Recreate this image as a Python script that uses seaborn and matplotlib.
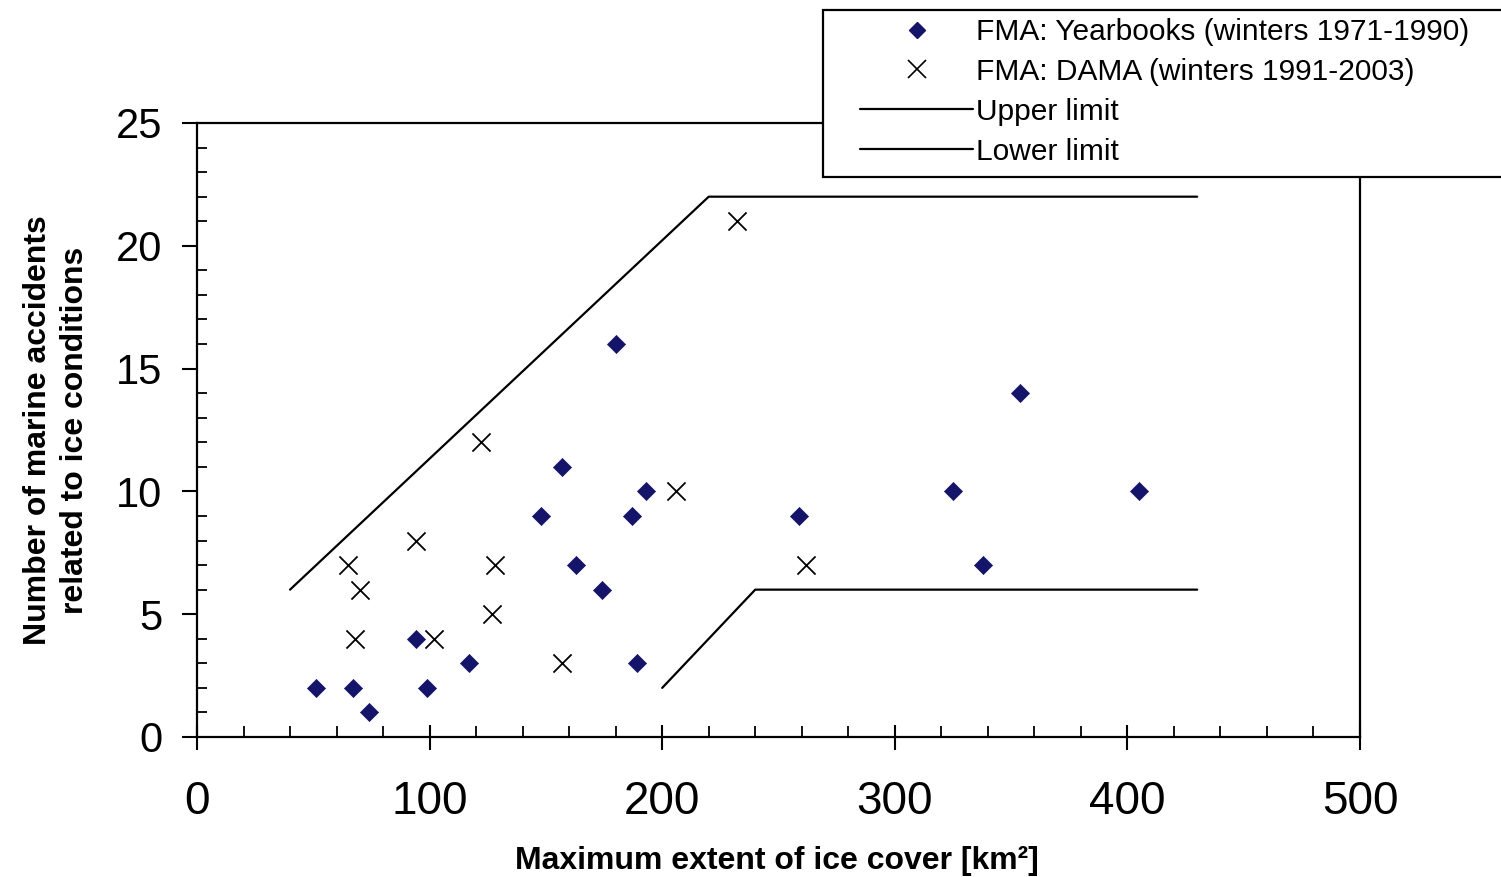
import numpy as np
import pandas as pd
import matplotlib
matplotlib.use("Agg")
import matplotlib.pyplot as plt
import seaborn as sns
from matplotlib.lines import Line2D
from matplotlib.patches import Rectangle
from matplotlib.ticker import MultipleLocator

# ---- data ----
yb_x = [51, 67, 74, 94, 99, 117, 148, 157, 163, 174, 180, 187, 189, 193, 259, 325, 338, 354, 405]
yb_y = [2, 2, 1, 4, 2, 3, 9, 11, 7, 6, 16, 9, 3, 10, 9, 10, 7, 14, 10]

dama_x = [65, 70, 68, 94, 102, 122, 128, 127, 157, 206, 232, 262]
dama_y = [7, 6, 4, 8, 4, 12, 7, 5, 3, 10, 21, 7]

upper_x = [40, 220, 430]
upper_y = [6, 22, 22]
lower_x = [200, 240, 430]
lower_y = [2, 6, 6]

labels = ["FMA: Yearbooks (winters 1971-1990)",
          "FMA: DAMA (winters 1991-2003)",
          "Upper limit",
          "Lower limit"]

x_label = "Maximum extent of ice cover [km²]"
y_label = "Number of marine accidents\nrelated to ice conditions"

# ---- style ----
sns.set_theme(style="white")
plt.rcParams['font.family'] = ['Liberation Sans', 'DejaVu Sans']
plt.rcParams['text.color'] = 'black'
plt.rcParams['axes.labelcolor'] = 'black'
plt.rcParams['xtick.color'] = 'black'
plt.rcParams['ytick.color'] = 'black'

W, H = 1501, 877
fig = plt.figure(figsize=(W / 100, H / 100), dpi=100)
ax = fig.add_axes([197 / W, 1 - 737 / H, (1360 - 197) / W, (737 - 123) / H])

yb = pd.DataFrame({"x": yb_x, "y": yb_y})
dm = pd.DataFrame({"x": dama_x, "y": dama_y})
up = pd.DataFrame({"x": upper_x, "y": upper_y})
lo = pd.DataFrame({"x": lower_x, "y": lower_y})

navy = "#14146b"
sns.lineplot(data=up, x="x", y="y", ax=ax, color="black", lw=1.6, sort=False, estimator=None)
sns.lineplot(data=lo, x="x", y="y", ax=ax, color="black", lw=1.6, sort=False, estimator=None)
sns.scatterplot(data=yb, x="x", y="y", ax=ax, marker="D", s=85, color=navy,
                edgecolor=navy, linewidth=0.5, zorder=3)
sns.scatterplot(data=dm, x="x", y="y", ax=ax, marker="x", s=170, color="black",
                linewidth=1.3, zorder=3)

ax.set_xlim(0, 500)
ax.set_ylim(0, 25)
ax.xaxis.set_major_locator(MultipleLocator(100))
ax.xaxis.set_minor_locator(MultipleLocator(20))
ax.yaxis.set_major_locator(MultipleLocator(5))
ax.yaxis.set_minor_locator(MultipleLocator(1))

for s in ax.spines.values():
    s.set_color("black")
    s.set_linewidth(1.6)

ax.tick_params(axis="x", which="major", direction="inout", length=18, width=1.5,
               bottom=True, labelsize=33, pad=22, colors="black")
ax.tick_params(axis="x", which="minor", direction="in", length=8, width=1.3, bottom=True)
ax.tick_params(axis="y", which="major", direction="out", length=11, width=1.5,
               left=True, labelsize=30, pad=14, colors="black")
ax.tick_params(axis="y", which="minor", direction="in", length=7, width=1.3, left=True)

ax.set_xlabel(x_label, fontsize=23, fontweight="bold", color="black")
ax.set_ylabel(y_label, fontsize=23, fontweight="bold", linespacing=1.3, color="black")
ax.xaxis.set_label_coords(0.499, -0.178)
ax.yaxis.set_label_coords(-0.092, 0.5)
ax.xaxis.label.set_va("top")

# legend frame
fig.patches.append(Rectangle((823 / W, 1 - 177 / H), (1530 - 823) / W, (177 - 10) / H,
                             transform=fig.transFigure, facecolor="white",
                             edgecolor="black", linewidth=1.6, zorder=2))

handles = [
    Line2D([], [], ls="none", marker="D", markersize=8, color=navy),
    Line2D([], [], ls="none", marker="x", markersize=13, color="black", markeredgewidth=1.2),
    Line2D([], [], color="black", lw=1.6),
    Line2D([], [], color="black", lw=1.6),
]
leg = fig.legend(handles, labels, loc="upper left",
                 bbox_to_anchor=(860 / W, 1 - 18 / H), frameon=False,
                 fontsize=21.5, handlelength=3.8, handletextpad=0.1,
                 borderpad=0, borderaxespad=0, labelspacing=0.4)
for t in leg.get_texts():
    t.set_color("black")
leg.set_zorder(5)

fig.savefig("out.png", dpi=100, facecolor="white")
